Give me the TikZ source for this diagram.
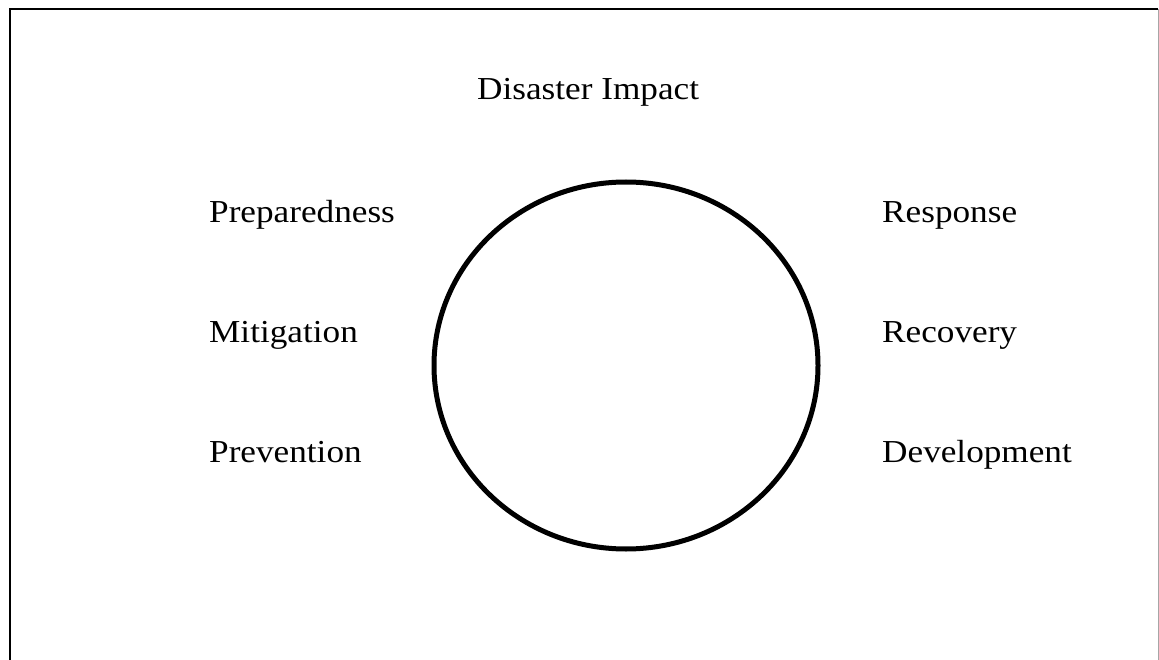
\documentclass[tikz,border=0pt]{standalone}
\usepackage{fontspec}
\setmainfont[FakeStretch=1.1]{Liberation Serif}
\usetikzlibrary{shapes.geometric}
\begin{document}
\begin{tikzpicture}[x=1pt,y=-1pt,
  phase/.style={anchor=base west,inner sep=0pt,font=\fontsize{32}{36}\selectfont},
  title/.style={anchor=base west,inner sep=0pt,font=\fontsize{32}{36}\selectfont},
  cycle/.style={draw,line width=5pt,ellipse,minimum width=384pt,minimum height=367pt,inner sep=0pt}]
  \useasboundingbox (0,0) rectangle (1159,660);
  % frame
  \draw[line width=1.8pt] (10,670) -- (10,9) -- (1158,9);
  \draw[line width=1pt,black!35] (1158,9) -- (1158,670);
  % cycle
  \node[cycle] (c) at (626,365.5) {};
  \node[title] (impact) at (477,100) {Disaster Impact};
  % phases before impact
  \node[phase] (prep) at (209,223) {Preparedness};
  \node[phase] (mit) at (209,342) {Mitigation};
  \node[phase] (prev) at (209,462) {Prevention};
  % phases after impact
  \node[phase] (resp) at (882,223) {Response};
  \node[phase] (rec) at (882,342) {Recovery};
  \node[phase] (dev) at (882,462) {Development};
\end{tikzpicture}
\end{document}
